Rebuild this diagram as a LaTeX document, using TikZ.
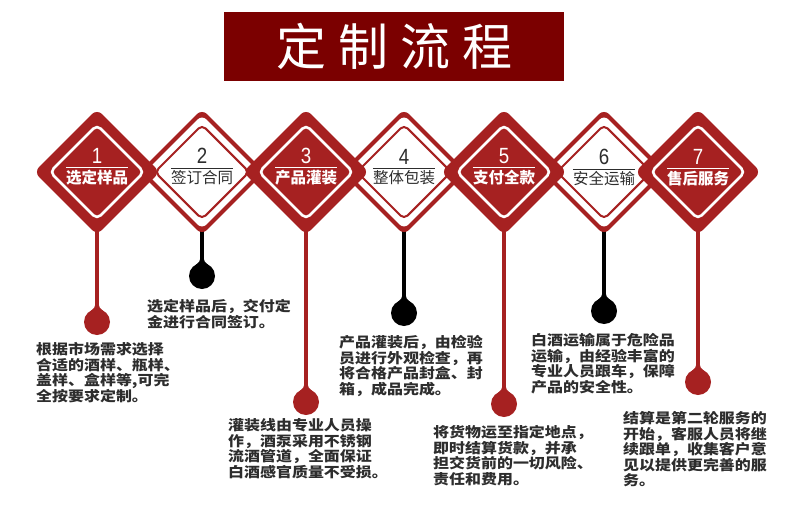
\documentclass[tikz,border=0pt]{standalone}
\usepackage{fontspec}
\usetikzlibrary{shapes.geometric,calc}
\newfontfamily\cjk{Noto Sans CJK SC}
\newfontfamily\bodyfont{Noto Sans CJK SC}[FakeStretch=1.14]
\newfontfamily\numfont{Liberation Sans}[FakeStretch=0.85]
\definecolor{dred}{RGB}{166,33,33}
\definecolor{tred}{RGB}{123,0,0}
\definecolor{ink}{RGB}{45,45,45}
\begin{document}
\begin{tikzpicture}[x=1pt,y=-1pt,
  outerd/.style={diamond, inner sep=0pt, minimum size=126pt, fill=dred, rounded corners=7pt},
  whitefill/.style={diamond, inner sep=0pt, minimum size=114pt, fill=white, rounded corners=6pt},
  thinred/.style={diamond, inner sep=0pt, minimum size=95pt, draw=dred, line width=2pt, rounded corners=5pt},
  thinwhite/.style={diamond, inner sep=0pt, minimum size=95pt, draw=white, line width=2.6pt, rounded corners=5pt},
  numtxt/.style={inner sep=0pt, font=\numfont\fontsize{22}{22}\selectfont},
  labred/.style={inner sep=0pt, text=white, font=\cjk\bfseries\fontsize{15.5}{16}\selectfont},
  labwhite/.style={inner sep=0pt, text=ink, font=\cjk\fontsize{15.5}{16}\selectfont},
  body/.style={inner sep=0pt, anchor=north west, align=left, text=ink, font=\bodyfont\bfseries\fontsize{14}{15.4}\selectfont},
  dotd/.style={circle, inner sep=0pt, minimum size=26pt},
  stemline/.style={line width=3.5pt}
]
\useasboundingbox (0,0) rectangle (790,506);
\fill[white] (0,0) rectangle (790,506);

% title
\node[fill=tred, minimum width=340pt, minimum height=69pt, inner sep=0pt, text=white,
      font=\cjk\fontsize{50}{50}\selectfont] (title) at (394,46.5)
      {定\hspace{12pt}制\hspace{12pt}流\hspace{12pt}程};

% diamond centres
\coordinate (c1) at (97,172);
\coordinate (c2) at (202,172);
\coordinate (c3) at (306,172);
\coordinate (c4) at (404,172);
\coordinate (c5) at (504,172);
\coordinate (c6) at (604,172);
\coordinate (c7) at (698,172);

% dots
\node[dotd, fill=dred] (p1) at (97,322) {};
\node[dotd, fill=black] (p2) at (202,276) {};
\node[dotd, fill=dred] (p3) at (306,402) {};
\node[dotd, fill=black] (p4) at (404,313) {};
\node[dotd, fill=dred] (p5) at (504,404) {};
\node[dotd, fill=black] (p6) at (604,311) {};
\node[dotd, fill=dred] (p7) at (698,382) {};

% stems
\foreach \i/\col in {1/dred,2/black,3/dred,4/black,5/dred,6/black,7/dred}{
  \draw[stemline, draw=\col] (c\i) -- (p\i.center);
  \fill[\col] ($(p\i.center)+(-1.75,-20)$) .. controls ($(p\i.center)+(-1.75,-15)$) and ($(p\i.center)+(-3,-13)$) .. ($(p\i.center)+(-6,-11)$)
     -- ($(p\i.center)+(6,-11)$) .. controls ($(p\i.center)+(3,-13)$) and ($(p\i.center)+(1.75,-15)$) .. ($(p\i.center)+(1.75,-20)$) -- cycle;
}

% white diamonds (even) first
\foreach \i in {2,4,6}{
  \node[outerd] (d\i) at (c\i) {};
  \node[whitefill] (w\i) at (c\i) {};
  \node[thinred] (r\i) at (c\i) {};
}
% red diamonds (odd) on top
\foreach \i in {1,3,5,7}{
  \node[outerd] (d\i) at (c\i) {};
  \node[thinwhite] (r\i) at (c\i) {};
}

% diamond texts
\node[numtxt, text=white] (n1) at (97,156) {1};
\node[labred] (l1) at (97,178) {选定样品};
\node[numtxt, text=ink] (n2) at (202,156) {2};
\node[labwhite] (l2) at (202,178) {签订合同};
\node[numtxt, text=white] (n3) at (306,156) {3};
\node[labred] (l3) at (306,178) {产品灌装};
\node[numtxt, text=ink] (n4) at (404,157) {4};
\node[labwhite] (l4) at (404,178) {整体包装};
\node[numtxt, text=white] (n5) at (504,156) {5};
\node[labred] (l5) at (504,178) {支付全款};
\node[numtxt, text=ink] (n6) at (604,157) {6};
\node[labwhite] (l6) at (604,179) {安全运输};
\node[numtxt, text=white] (n7) at (698,157) {7};
\node[labred] (l7) at (698,179) {售后服务};
\foreach \i/\col in {1/white,2/ink,3/white,4/ink,5/white,6/ink,7/white}{
  \draw[\col, line width=0.8pt] ([yshift=2.5pt]l\i.north west) -- ([yshift=2.5pt]l\i.north east);
}

% body texts
\node[body] (t1) at (36,342.5) {根据市场需求选择\\合适的酒样、瓶样、\\盖样、盒样等,可完\\全按要求定制。};
\node[body] (t2) at (147,299.5) {选定样品后，交付定\\金进行合同签订。};
\node[body] (t3) at (228,418.5) {灌装线由专业人员操\\作，酒泵采用不锈钢\\流酒管道，全面保证\\白酒感官质量不受损。};
\node[body] (t4) at (339,335.5) {产品灌装后，由检验\\员进行外观检查，再\\将合格产品封盒、封\\箱，成品完成。};
\node[body] (t5) at (433,425.5) {将货物运至指定地点，\\即时结算货款，并承\\担交货前的一切风险、\\责任和费用。};
\node[body] (t6) at (531,333.5) {白酒运输属于危险品\\运输，由经验丰富的\\专业人员跟车，保障\\产品的安全性。};
\node[body] (t7) at (623,411.5) {结算是第二轮服务的\\开始，客服人员将继\\续跟单，收集客户意\\见以提供更完善的服\\务。};
\end{tikzpicture}
\end{document}
